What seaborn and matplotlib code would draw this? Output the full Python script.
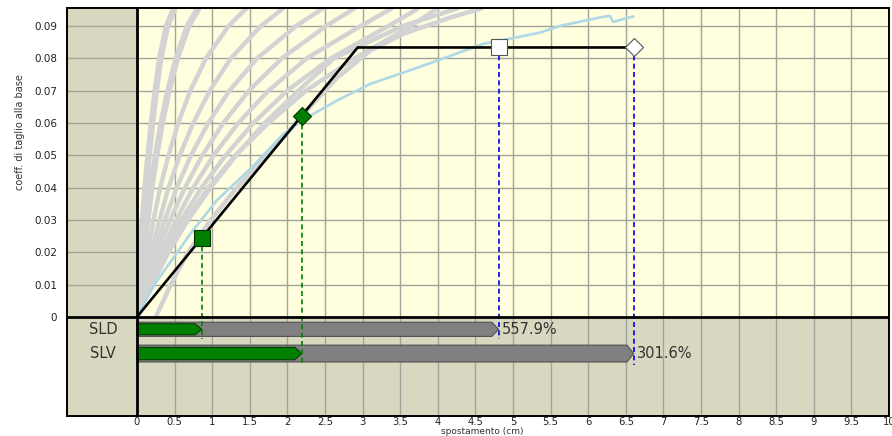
import numpy as np
import matplotlib
matplotlib.use("Agg")
import matplotlib.pyplot as plt
import seaborn as sns
from matplotlib.patches import Rectangle

# ---- pushover curves (x in cm at fixed base-shear levels) ----
curve_levels = [0, 0.01, 0.02, 0.03, 0.04, 0.05, 0.06, 0.07, 0.08, 0.09, 0.0955]
curve_1 = [0, 0.025, 0.05, 0.08, 0.115, 0.155, 0.20, 0.25, 0.31, 0.40, 0.50]
curve_2 = [0, 0.04, 0.085, 0.135, 0.19, 0.255, 0.33, 0.42, 0.53, 0.68, 0.82]
curve_3 = [0, 0.065, 0.14, 0.22, 0.31, 0.42, 0.55, 0.71, 0.92, 1.22, 1.46]
curve_4 = [0, 0.09, 0.19, 0.30, 0.42, 0.57, 0.75, 0.97, 1.25, 1.65, 1.95]
curve_5 = [0, 0.11, 0.23, 0.37, 0.53, 0.72, 0.95, 1.23, 1.60, 2.12, 2.48]
curve_6 = [0, 0.13, 0.27, 0.44, 0.64, 0.87, 1.15, 1.49, 1.93, 2.52, 2.90]
curve_7 = [0, 0.15, 0.32, 0.52, 0.75, 1.02, 1.35, 1.75, 2.26, 2.98, 3.40]
curve_8 = [0, 0.17, 0.36, 0.59, 0.86, 1.18, 1.55, 2.00, 2.58, 3.35, 3.75]
curve_9 = [0, 0.19, 0.40, 0.65, 0.95, 1.31, 1.75, 2.25, 2.90, 3.65, 4.00]
curve_10 = [0, 0.20, 0.42, 0.68, 0.98, 1.32, 1.70, 2.15, 2.62, 3.54, 4.28]
curve_11_x = [0.25, 0.45, 0.68, 0.98, 1.33, 1.72, 2.12, 2.19, 2.66, 3.10, 3.54, 4.16, 4.60]
curve_11_y = [0.0, 0.01, 0.02, 0.03, 0.04, 0.05, 0.06, 0.0622, 0.0739, 0.0823, 0.0875, 0.0925, 0.0955]
thick_curves = [curve_1, curve_2]
thin_curves = [curve_3, curve_4, curve_5, curve_6, curve_7, curve_8, curve_9, curve_10]

# ---- selected curve ----
sel_x = [0, 0.24, 0.71, 1.06, 1.53, 1.95, 2.19, 2.66, 3.10, 3.55, 3.99, 4.60,
         5.00, 5.36, 5.63, 6.16, 6.29, 6.33, 6.60]
sel_y = [0, 0.0103, 0.0257, 0.036, 0.0463, 0.0566, 0.0607, 0.0669, 0.072, 0.0756,
         0.0792, 0.0844, 0.0862, 0.0879, 0.0900, 0.0926, 0.0931, 0.0912, 0.0929]

# ---- equivalent bilinear ----
bilinear_x = [0, 2.935, 6.605]
bilinear_y = [0, 0.0833, 0.0833]

# ---- limit states ----
states = ["SLD", "SLV"]
demand = [0.862, 2.19]
capacity = [4.809, 6.605]

x_ticks = [i * 0.5 for i in range(21)]
y_ticks = [i * 0.01 for i in range(10)]

KHAKI = "#d8d8c0"
PAPER = "#ffffe0"
GREEN = "#008000"

sns.set_style("white")
plt.rcParams["font.family"] = ["DejaVu Sans"]

fig = plt.figure(figsize=(8.92, 4.36), dpi=100)
ax = fig.add_axes([67 / 892, 20 / 436, 822 / 892, 408 / 436])
xmin, xmax, ymin, ymax = -0.93, 10.0, -0.0306, 0.0955
ax.set_xlim(xmin, xmax)
ax.set_ylim(ymin, ymax)
ax.set_facecolor(KHAKI)
paper = Rectangle((0, 0), xmax, ymax, facecolor=PAPER, edgecolor="none", zorder=0.2)
ax.add_patch(paper)

ax.set_xticks(x_ticks)
ax.set_xticklabels([f"{v:g}" for v in x_ticks])
ax.set_yticks(y_ticks)
ax.set_yticklabels([f"{v:g}" for v in y_ticks])
ax.set_axisbelow(True)
ax.grid(True, color="#a3a39a", lw=1.0)
ax.tick_params(axis="both", direction="in", colors="black", labelcolor="#222222",
               labelsize=7.5, width=1.4)
ax.tick_params(axis="x", length=5, pad=1, labelsize=7.2)
ax.tick_params(axis="y", length=6, pad=7)
for s in ax.spines.values():
    s.set_color("black")
    s.set_linewidth(1.4)

# family of capacity curves
for cx in thick_curves:
    sns.lineplot(x=cx, y=curve_levels, sort=False, estimator=None, ax=ax,
                 color="#d3d3d3", lw=4.8, zorder=2, solid_capstyle="butt")
for cx in thin_curves:
    sns.lineplot(x=cx, y=curve_levels, sort=False, estimator=None, ax=ax,
                 color="#d3d3d3", lw=3.2, zorder=2, solid_capstyle="butt")
sns.lineplot(x=curve_11_x, y=curve_11_y, sort=False, estimator=None, ax=ax,
             color="#d3d3d3", lw=3.2, zorder=2, solid_capstyle="butt")
sns.lineplot(x=sel_x, y=sel_y, sort=False, estimator=None, ax=ax,
             color="#add8e6", lw=1.9, zorder=3)
sns.lineplot(x=bilinear_x, y=bilinear_y, sort=False, estimator=None, ax=ax,
             color="black", lw=1.9, zorder=4)
for ln in ax.lines:
    ln.set_clip_path(paper)

# main axes through the origin
ax.axvline(0, color="black", lw=2.0, zorder=6)
ax.axhline(0, color="black", lw=2.0, zorder=6)

# limit-state bars
bar_center = [-0.0038, -0.0113]
bar_half = [0.0022, 0.0026]
fill_half = [0.0017, 0.0019]
tip = 0.09
demand_y = np.interp(demand, bilinear_x, bilinear_y)
cap_y = np.interp(capacity, bilinear_x, bilinear_y)
for i, name in enumerate(states):
    yc = bar_center[i]
    for xe, h, fc, ec in [(capacity[i], bar_half[i], "#808080", "#505050"),
                          (demand[i], fill_half[i], GREEN, "#004000")]:
        ax.fill([0, xe - tip, xe, xe - tip, 0], [yc - h, yc - h, yc, yc + h, yc + h],
                facecolor=fc, edgecolor=ec, lw=0.8, zorder=5)
    ax.text(-0.45, yc, name, ha="center", va="center", fontsize=10.5, color="#333333")
    ax.annotate(f"{capacity[i] / demand[i] * 100:.1f}%", (capacity[i], yc),
                xytext=(2, 0), textcoords="offset points", ha="left", va="center",
                fontsize=10.5, color="#333333")
    yb = yc - bar_half[i] - 0.0009
    ax.plot([demand[i], demand[i]], [demand_y[i], yb], color=GREEN, lw=1.2,
            ls=(0, (3, 2)), zorder=5.5)
    ax.plot([capacity[i], capacity[i]], [cap_y[i], yb], color="#0000ee", lw=1.2,
            ls=(0, (3, 2)), zorder=5.5)

# demand and capacity markers
ax.plot(demand[0], demand_y[0], marker="s", ms=11, mfc=GREEN, mec="#003300", mew=0.8, zorder=7)
ax.plot(demand[1], demand_y[1], marker="D", ms=9.5, mfc=GREEN, mec="#003300", mew=0.8, zorder=7)
ax.plot(capacity[0], cap_y[0], marker="s", ms=11, mfc="white", mec="#555555", mew=0.8, zorder=7)
ax.plot(capacity[1], cap_y[1], marker="D", ms=9.5, mfc="white", mec="#555555", mew=0.8, zorder=7)

ax.set_xlabel("")
ax.set_ylabel("")
fig.text(20 / 892, 1 - 132 / 436, "coeff. di taglio alla base", rotation=90,
         ha="center", va="center", fontsize=7, color="#333333")
fig.text(482 / 892, 0.0, "spostamento (cm)", ha="center", va="bottom",
         fontsize=6.5, color="#333333")

fig.savefig("out.png", dpi=100)
